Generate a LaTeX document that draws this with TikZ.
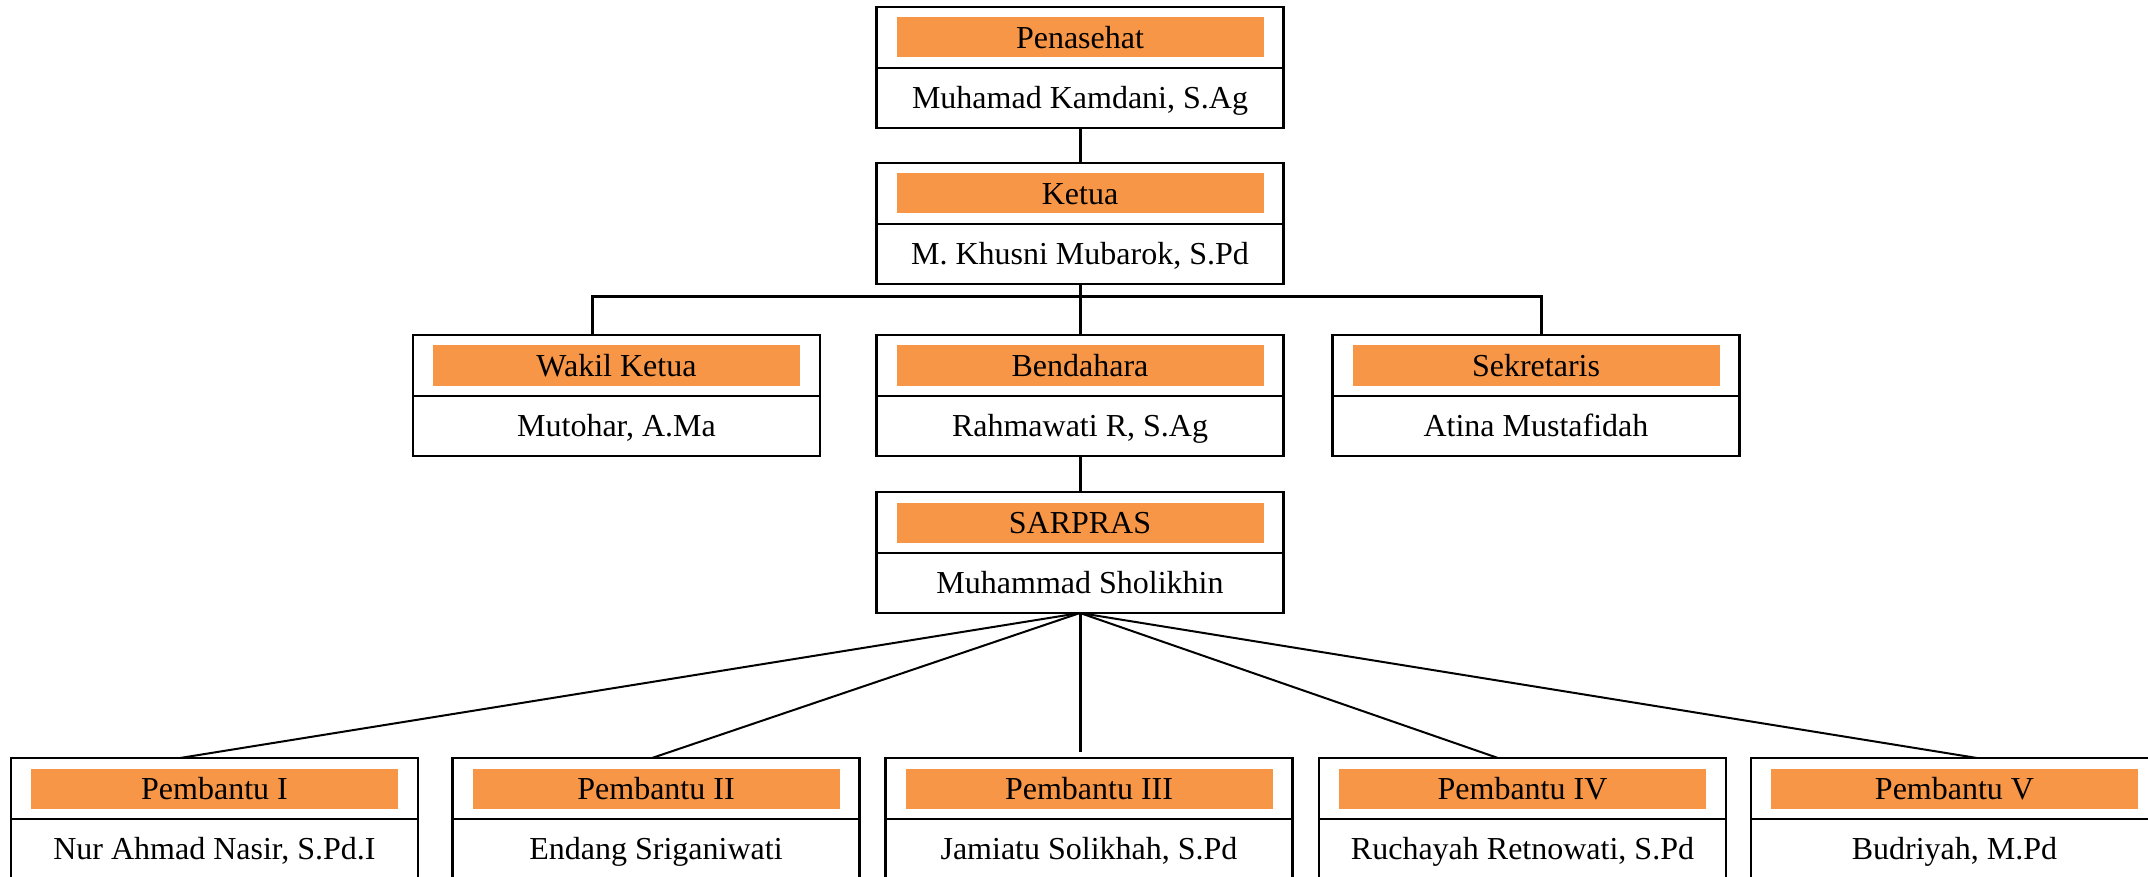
\documentclass[tikz,border=0pt]{standalone}
\usepackage{fontspec}
\setmainfont{Liberation Serif}
\usetikzlibrary{calc}
\definecolor{orgorange}{HTML}{F79646}
\newcommand{\orgbox}[5]{%
  \node[hdr] (#1) at (#2,#3+30.5) {};
  \node[bar] (#1-t) at (#1.center) {#4};
  \node[namebox,anchor=north] (#1-n) at (#1.south) {#5};
}
\begin{document}
\begin{tikzpicture}[x=0.5pt,y=-0.5pt,
  hdr/.style={draw=black,line width=1.1pt,minimum width=203.5pt,minimum height=30.5pt,inner sep=0pt,outer sep=0pt},
  bar/.style={fill=orgorange,minimum width=183.5pt,minimum height=20pt,inner sep=0pt,text height=10.6pt,text depth=0pt,font=\fontsize{16}{19}\selectfont},
  namebox/.style={draw=black,line width=1.1pt,minimum width=203.5pt,minimum height=30pt,inner sep=0pt,outer sep=0pt,text height=10.6pt,text depth=0pt,font=\fontsize{16}{19}\selectfont},
  tree/.style={line width=1.5pt},
  fan/.style={line width=1pt}]
\useasboundingbox (0,0) rectangle (2148,877);
\clip (0,0) rectangle (2148,877);
\fill[white] (0,0) rectangle (2148,877);

\orgbox{pen}{1080}{7}{Penasehat}{Muhamad Kamdani, S.Ag}
\orgbox{ket}{1080}{163}{Ketua}{M. Khusni Mubarok, S.Pd}
\orgbox{wak}{616.5}{335}{Wakil Ketua}{Mutohar, A.Ma}
\orgbox{ben}{1080}{335}{Bendahara}{Rahmawati R, S.Ag}
\orgbox{sek}{1536}{335}{Sekretaris}{Atina Mustafidah}
\orgbox{sar}{1080}{492}{SARPRAS}{Muhammad Sholikhin}
\orgbox{pa}{214.5}{758}{Pembantu I}{Nur Ahmad Nasir, S.Pd.I}
\orgbox{pb}{656}{758}{Pembantu II}{Endang Sriganiwati}
\orgbox{pc}{1089}{758}{Pembantu III}{Jamiatu Solikhah, S.Pd}
\orgbox{pd}{1522.5}{758}{Pembantu IV}{Ruchayah Retnowati, S.Pd}
\orgbox{pe}{1954.5}{758}{Pembantu V}{Budriyah, M.Pd}

\draw[tree] (pen-n.south) -- (ket.north);
\draw[tree] (ket-n.south) -- (ben.north);
\draw[tree] ($(wak.north)+(-24.5,0)$) -- ++(0,-38) -| ($(sek.north)+(5,0)$);
\draw[tree] (ben-n.south) -- (sar.north);

\draw[fan] (sar-n.south) -- ($(pa.north)+(-34.5,0)$);
\draw[fan] (sar-n.south) -- ($(pb.north)+(-4,0)$);
\draw[tree] (sar-n.south) -- ($(pc.north -| sar-n.south)+(0,-6)$);
\draw[fan] (sar-n.south) -- ($(pd.north)+(-24.5,0)$);
\draw[fan] (sar-n.south) -- ($(pe.north)+(22.5,0)$);
\end{tikzpicture}
\end{document}
